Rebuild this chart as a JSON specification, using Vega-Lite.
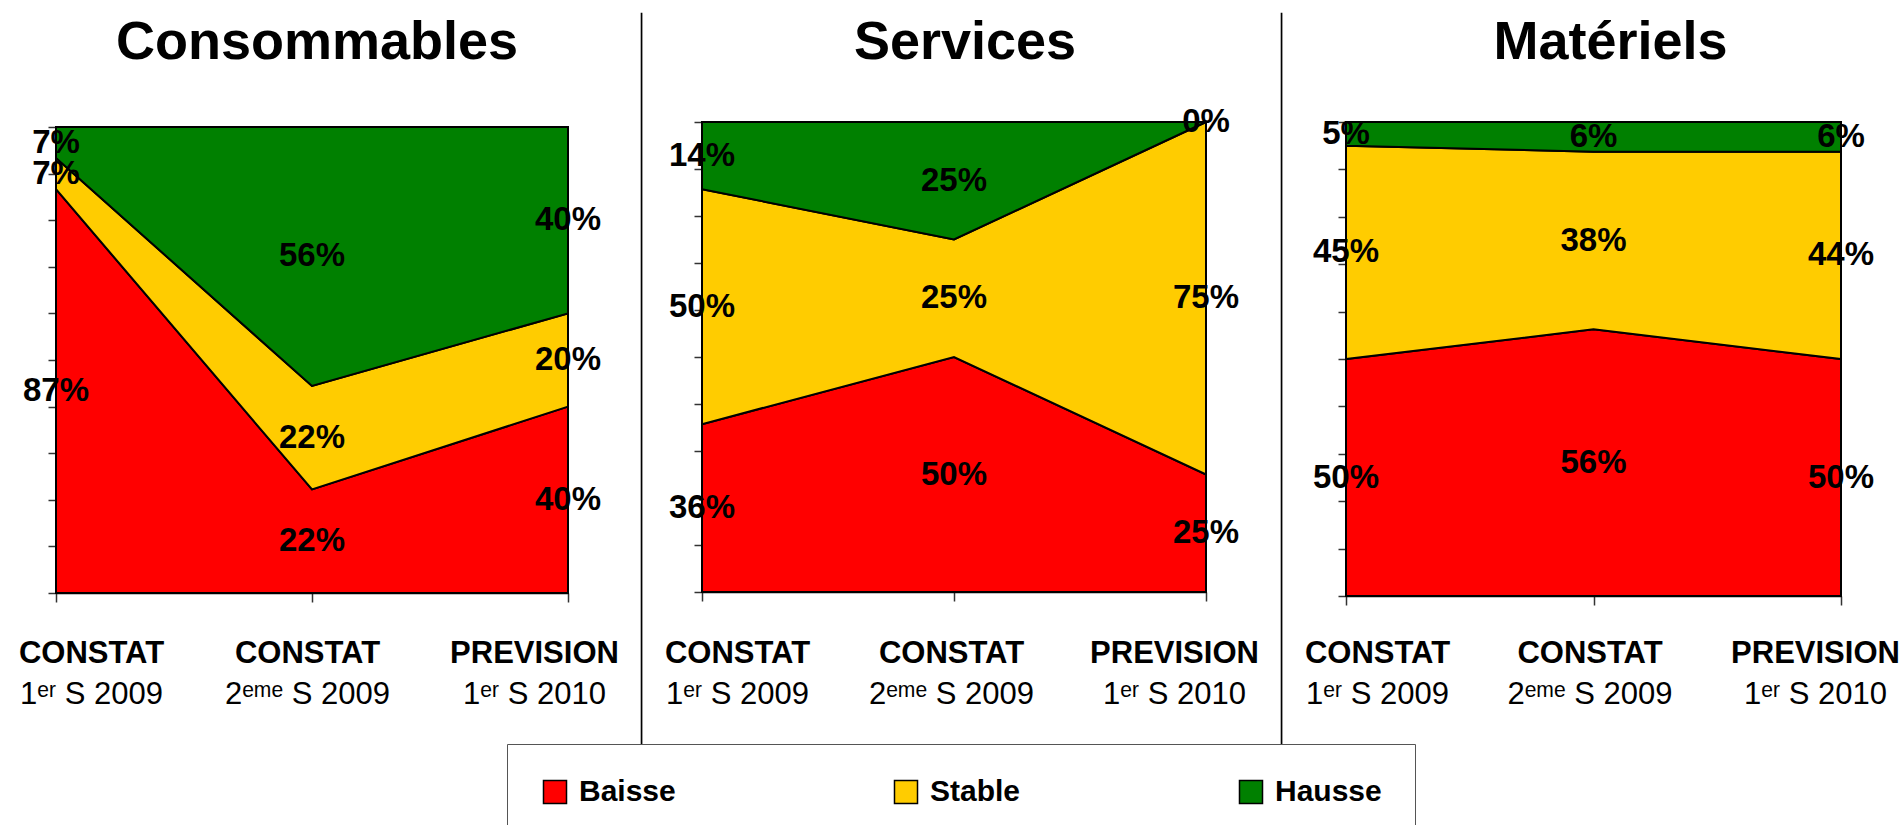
{
  "$schema": "https://vega.github.io/schema/vega-lite/v6.json",
  "padding": {"left": 18, "top": 12, "right": 5, "bottom": 5},
  "background": "white",
  "bounds": "full",
  "spacing": 21,
  "data": {"values": [
    {"panel": "Consommables", "cat": "CONSTAT|1ᵉʳ S 2009", "series": "Baisse", "order": 1, "v": 0.8667},
    {"panel": "Consommables", "cat": "CONSTAT|1ᵉʳ S 2009", "series": "Stable", "order": 2, "v": 0.0667},
    {"panel": "Consommables", "cat": "CONSTAT|1ᵉʳ S 2009", "series": "Hausse", "order": 3, "v": 0.0667},
    {"panel": "Consommables", "cat": "CONSTAT|2ᵉᵐᵉ S 2009", "series": "Baisse", "order": 1, "v": 0.2222},
    {"panel": "Consommables", "cat": "CONSTAT|2ᵉᵐᵉ S 2009", "series": "Stable", "order": 2, "v": 0.2222},
    {"panel": "Consommables", "cat": "CONSTAT|2ᵉᵐᵉ S 2009", "series": "Hausse", "order": 3, "v": 0.5556},
    {"panel": "Consommables", "cat": "PREVISION|1ᵉʳ S 2010", "series": "Baisse", "order": 1, "v": 0.4},
    {"panel": "Consommables", "cat": "PREVISION|1ᵉʳ S 2010", "series": "Stable", "order": 2, "v": 0.2},
    {"panel": "Consommables", "cat": "PREVISION|1ᵉʳ S 2010", "series": "Hausse", "order": 3, "v": 0.4},
    {"panel": "Services", "cat": "CONSTAT|1ᵉʳ S 2009", "series": "Baisse", "order": 1, "v": 0.3571},
    {"panel": "Services", "cat": "CONSTAT|1ᵉʳ S 2009", "series": "Stable", "order": 2, "v": 0.5},
    {"panel": "Services", "cat": "CONSTAT|1ᵉʳ S 2009", "series": "Hausse", "order": 3, "v": 0.1429},
    {"panel": "Services", "cat": "CONSTAT|2ᵉᵐᵉ S 2009", "series": "Baisse", "order": 1, "v": 0.5},
    {"panel": "Services", "cat": "CONSTAT|2ᵉᵐᵉ S 2009", "series": "Stable", "order": 2, "v": 0.25},
    {"panel": "Services", "cat": "CONSTAT|2ᵉᵐᵉ S 2009", "series": "Hausse", "order": 3, "v": 0.25},
    {"panel": "Services", "cat": "PREVISION|1ᵉʳ S 2010", "series": "Baisse", "order": 1, "v": 0.25},
    {"panel": "Services", "cat": "PREVISION|1ᵉʳ S 2010", "series": "Stable", "order": 2, "v": 0.75},
    {"panel": "Services", "cat": "PREVISION|1ᵉʳ S 2010", "series": "Hausse", "order": 3, "v": 0},
    {"panel": "Matériels", "cat": "CONSTAT|1ᵉʳ S 2009", "series": "Baisse", "order": 1, "v": 0.5},
    {"panel": "Matériels", "cat": "CONSTAT|1ᵉʳ S 2009", "series": "Stable", "order": 2, "v": 0.45},
    {"panel": "Matériels", "cat": "CONSTAT|1ᵉʳ S 2009", "series": "Hausse", "order": 3, "v": 0.05},
    {"panel": "Matériels", "cat": "CONSTAT|2ᵉᵐᵉ S 2009", "series": "Baisse", "order": 1, "v": 0.5625},
    {"panel": "Matériels", "cat": "CONSTAT|2ᵉᵐᵉ S 2009", "series": "Stable", "order": 2, "v": 0.375},
    {"panel": "Matériels", "cat": "CONSTAT|2ᵉᵐᵉ S 2009", "series": "Hausse", "order": 3, "v": 0.0625},
    {"panel": "Matériels", "cat": "PREVISION|1ᵉʳ S 2010", "series": "Baisse", "order": 1, "v": 0.5},
    {"panel": "Matériels", "cat": "PREVISION|1ᵉʳ S 2010", "series": "Stable", "order": 2, "v": 0.4375},
    {"panel": "Matériels", "cat": "PREVISION|1ᵉʳ S 2010", "series": "Hausse", "order": 3, "v": 0.0625}
  ]},
  "hconcat": [
    {
      "width": 512, "height": 731,
      "title": {"text": "Consommables", "offset": -57, "dx": 5},
      "transform": [
        {"filter": "datum.panel == 'Consommables'"},
        {"stack": "v", "groupby": ["cat"], "sort": [{"field": "order", "order": "ascending"}], "offset": "normalize", "as": ["y0", "y1"]}
      ],
      "layer": [
        {
          "mark": {"type": "area", "stroke": "black", "strokeWidth": 2, "strokeJoin": "miter", "fillOpacity": 1},
          "encoding": {
            "x": {"field": "cat", "type": "ordinal", "scale": {"padding": 0}, "axis": {"orient": "bottom", "offset": -151, "title": null, "domain": true, "domainColor": "black", "domainWidth": 1.5, "ticks": true, "tickSize": 9, "tickColor": "#333", "tickWidth": 1.5, "labelExpr": "split(datum.label, '|')[0]", "labelFont": "Liberation Sans", "labelFontSize": 31, "labelFontWeight": "bold", "labelColor": "black", "labelBaseline": "alphabetic", "labelPadding": 60, "labelAngle": 0, "labelOverlap": false, "labelBound": false, "labelFlush": false, "labelOffset": {"condition": [{"test": "indexof(datum.value, 'PREVISION') == 0", "value": -34}, {"test": "indexof(datum.value, '2') == 8", "value": -5}], "value": 35}}},
            "y": {"field": "y1", "type": "quantitative", "scale": {"domain": [0, 1], "range": [580, 114]}, "axis": {"title": null, "labels": false, "grid": false, "values": [0, 0.1, 0.2, 0.3, 0.4, 0.5, 0.6, 0.7, 0.8, 0.9, 1], "tickSize": 8, "tickColor": "#333", "tickWidth": 1.5, "domainColor": "#333", "domainWidth": 1.5}},
            "y2": {"field": "y0"},
            "color": {"field": "series", "type": "nominal", "scale": {"domain": ["Baisse", "Stable", "Hausse"], "range": ["#FF0000", "#FFCC00", "#008000"]}, "legend": {"orient": "none", "legendX": 451, "legendY": 731, "direction": "horizontal", "columns": 3, "title": null, "symbolType": "square", "symbolSize": 530, "symbolStrokeColor": "black", "symbolStrokeWidth": 1.5, "symbolOpacity": 1, "labelFont": "Liberation Sans", "labelFontSize": 30, "labelFontWeight": "bold", "labelColor": "black", "labelOffset": 9, "columnPadding": 215, "padding": 33, "strokeColor": "#555", "fillColor": "white", "gridAlign": "each"}}
          }
        },
        {
          "transform": [{"fold": ["y0", "y1"], "as": ["k", "val"]}],
          "mark": {"type": "text", "font": "Liberation Sans", "fontSize": 33, "fontWeight": "bold", "color": "black", "baseline": "middle", "align": "center"},
          "encoding": {
            "x": {"field": "cat", "type": "ordinal", "axis": {"orient": "bottom", "offset": -151, "title": null, "domain": false, "ticks": false, "tickSize": 0, "labelExpr": "split(datum.label, '|')[1]", "labelFont": "Liberation Sans", "labelFontSize": 31, "labelFontWeight": "normal", "labelColor": "black", "labelBaseline": "alphabetic", "labelPadding": 110, "labelAngle": 0, "labelOverlap": false, "labelBound": false, "labelFlush": false, "labelOffset": {"condition": [{"test": "indexof(datum.value, 'PREVISION') == 0", "value": -34}, {"test": "indexof(datum.value, '2') == 8", "value": -5}], "value": 35}}},
            "y": {"aggregate": "mean", "field": "val", "type": "quantitative", "title": null},
            "detail": {"field": "series"},
            "text": {"field": "v", "type": "quantitative", "format": ".0%"}
          }
        }
      ],
      "resolve": {"axis": {"x": "independent"}}
    },
    {
      "width": 0.5, "height": 731,
      "data": {"values": []},
      "mark": {"type": "rule"},
      "encoding": {},
      "view": {"stroke": "black", "strokeWidth": 1.2}
    },
    {
      "width": 504, "height": 731,
      "title": {"text": "Services", "offset": -57, "dx": 11},
      "transform": [
        {"filter": "datum.panel == 'Services'"},
        {"stack": "v", "groupby": ["cat"], "sort": [{"field": "order", "order": "ascending"}], "offset": "normalize", "as": ["y0", "y1"]}
      ],
      "layer": [
        {
          "mark": {"type": "area", "stroke": "black", "strokeWidth": 2, "strokeJoin": "miter", "fillOpacity": 1},
          "encoding": {
            "x": {"field": "cat", "type": "ordinal", "scale": {"padding": 0}, "axis": {"orient": "bottom", "offset": -152, "title": null, "domain": true, "domainColor": "black", "domainWidth": 1.5, "ticks": true, "tickSize": 9, "tickColor": "#333", "tickWidth": 1.5, "labelExpr": "split(datum.label, '|')[0]", "labelFont": "Liberation Sans", "labelFontSize": 31, "labelFontWeight": "bold", "labelColor": "black", "labelBaseline": "alphabetic", "labelPadding": 61, "labelAngle": 0, "labelOverlap": false, "labelBound": false, "labelFlush": false, "labelOffset": {"condition": [{"test": "indexof(datum.value, 'PREVISION') == 0", "value": -32}, {"test": "indexof(datum.value, '2') == 8", "value": -3}], "value": 35}}},
            "y": {"field": "y1", "type": "quantitative", "scale": {"domain": [0, 1], "range": [579, 109]}, "axis": {"title": null, "labels": false, "grid": false, "values": [0, 0.1, 0.2, 0.3, 0.4, 0.5, 0.6, 0.7, 0.8, 0.9, 1], "tickSize": 8, "tickColor": "#333", "tickWidth": 1.5, "domainColor": "#333", "domainWidth": 1.5}},
            "y2": {"field": "y0"},
            "color": {"field": "series", "type": "nominal", "scale": {"domain": ["Baisse", "Stable", "Hausse"], "range": ["#FF0000", "#FFCC00", "#008000"]}}
          }
        },
        {
          "transform": [{"fold": ["y0", "y1"], "as": ["k", "val"]}],
          "mark": {"type": "text", "font": "Liberation Sans", "fontSize": 33, "fontWeight": "bold", "color": "black", "baseline": "middle", "align": "center"},
          "encoding": {
            "x": {"field": "cat", "type": "ordinal", "axis": {"orient": "bottom", "offset": -152, "title": null, "domain": false, "ticks": false, "tickSize": 0, "labelExpr": "split(datum.label, '|')[1]", "labelFont": "Liberation Sans", "labelFontSize": 31, "labelFontWeight": "normal", "labelColor": "black", "labelBaseline": "alphabetic", "labelPadding": 111, "labelAngle": 0, "labelOverlap": false, "labelBound": false, "labelFlush": false, "labelOffset": {"condition": [{"test": "indexof(datum.value, 'PREVISION') == 0", "value": -32}, {"test": "indexof(datum.value, '2') == 8", "value": -3}], "value": 35}}},
            "y": {"aggregate": "mean", "field": "val", "type": "quantitative", "title": null},
            "detail": {"field": "series"},
            "text": {"field": "v", "type": "quantitative", "format": ".0%"}
          }
        }
      ],
      "resolve": {"axis": {"x": "independent"}}
    },
    {
      "width": 0.5, "height": 731,
      "data": {"values": []},
      "mark": {"type": "rule"},
      "encoding": {},
      "view": {"stroke": "black", "strokeWidth": 1.2}
    },
    {
      "width": 495, "height": 731,
      "title": {"text": "Matériels", "offset": -57, "dx": 17},
      "transform": [
        {"filter": "datum.panel == 'Matériels'"},
        {"stack": "v", "groupby": ["cat"], "sort": [{"field": "order", "order": "ascending"}], "offset": "normalize", "as": ["y0", "y1"]}
      ],
      "layer": [
        {
          "mark": {"type": "area", "stroke": "black", "strokeWidth": 2, "strokeJoin": "miter", "fillOpacity": 1},
          "encoding": {
            "x": {"field": "cat", "type": "ordinal", "scale": {"padding": 0}, "axis": {"orient": "bottom", "offset": -148, "title": null, "domain": true, "domainColor": "black", "domainWidth": 1.5, "ticks": true, "tickSize": 9, "tickColor": "#333", "tickWidth": 1.5, "labelExpr": "split(datum.label, '|')[0]", "labelFont": "Liberation Sans", "labelFontSize": 31, "labelFontWeight": "bold", "labelColor": "black", "labelBaseline": "alphabetic", "labelPadding": 57, "labelAngle": 0, "labelOverlap": false, "labelBound": false, "labelFlush": false, "labelOffset": {"condition": [{"test": "indexof(datum.value, 'PREVISION') == 0", "value": -26}, {"test": "indexof(datum.value, '2') == 8", "value": -4}], "value": 31}}},
            "y": {"field": "y1", "type": "quantitative", "scale": {"domain": [0, 1], "range": [583, 109]}, "axis": {"title": null, "labels": false, "grid": false, "values": [0, 0.1, 0.2, 0.3, 0.4, 0.5, 0.6, 0.7, 0.8, 0.9, 1], "tickSize": 8, "tickColor": "#333", "tickWidth": 1.5, "domainColor": "#333", "domainWidth": 1.5}},
            "y2": {"field": "y0"},
            "color": {"field": "series", "type": "nominal", "scale": {"domain": ["Baisse", "Stable", "Hausse"], "range": ["#FF0000", "#FFCC00", "#008000"]}}
          }
        },
        {
          "transform": [{"fold": ["y0", "y1"], "as": ["k", "val"]}],
          "mark": {"type": "text", "font": "Liberation Sans", "fontSize": 33, "fontWeight": "bold", "color": "black", "baseline": "middle", "align": "center"},
          "encoding": {
            "x": {"field": "cat", "type": "ordinal", "axis": {"orient": "bottom", "offset": -148, "title": null, "domain": false, "ticks": false, "tickSize": 0, "labelExpr": "split(datum.label, '|')[1]", "labelFont": "Liberation Sans", "labelFontSize": 31, "labelFontWeight": "normal", "labelColor": "black", "labelBaseline": "alphabetic", "labelPadding": 107, "labelAngle": 0, "labelOverlap": false, "labelBound": false, "labelFlush": false, "labelOffset": {"condition": [{"test": "indexof(datum.value, 'PREVISION') == 0", "value": -26}, {"test": "indexof(datum.value, '2') == 8", "value": -4}], "value": 31}}},
            "y": {"aggregate": "mean", "field": "val", "type": "quantitative", "title": null},
            "detail": {"field": "series"},
            "text": {"field": "v", "type": "quantitative", "format": ".0%"}
          }
        }
      ],
      "resolve": {"axis": {"x": "independent"}}
    }
  ],
  "config": {
    "view": {"stroke": null},
    "font": "Liberation Sans",
    "title": {"font": "Liberation Sans", "fontSize": 54, "fontWeight": "bold", "color": "black", "anchor": "middle", "frame": "group", "baseline": "alphabetic"},
    "axis": {"grid": false}
  }
}
